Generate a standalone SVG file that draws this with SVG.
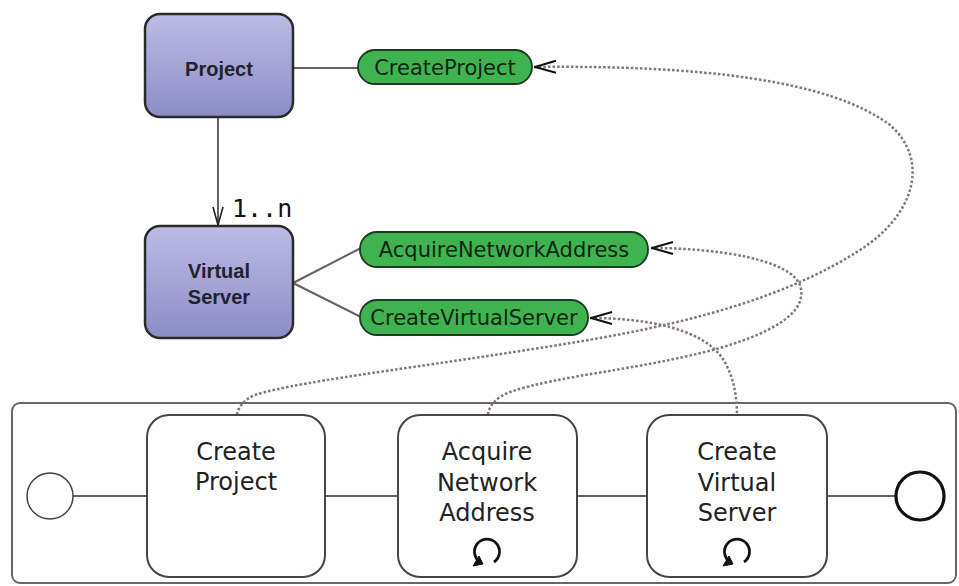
<svg xmlns="http://www.w3.org/2000/svg" width="959" height="586" viewBox="0 0 959 586">
<style>
.ent{stroke:#2a2a2a;stroke-width:2.5;fill:url(#lav)}
.entt{font-family:"Liberation Sans",Arial,sans-serif;font-weight:bold;font-size:20px;fill:#22222e;text-anchor:middle}
.pill{fill:#3fb34f;stroke:#1f3a22;stroke-width:1.8}
.pillt{font-family:"DejaVu Sans",sans-serif;font-size:21px;fill:#142414;text-anchor:middle}
.task{fill:#ffffff;stroke:#4a4444;stroke-width:2}
.taskt{font-family:"DejaVu Sans",sans-serif;font-size:24px;fill:#222;text-anchor:middle}
.solid{stroke:#6a6060;stroke-width:2;fill:none}
.dot{stroke:#857878;stroke-width:2.5;stroke-dasharray:2.6 2;fill:none}
.loop{stroke:#111;stroke-width:2.8;fill:none}
</style>
<defs>
<linearGradient id="lav" x1="0" y1="0" x2="0" y2="1">
<stop offset="0" stop-color="#bcbce6"/>
<stop offset="1" stop-color="#8c8cc6"/>
</linearGradient>
<marker id="open" markerUnits="userSpaceOnUse" markerWidth="26" markerHeight="16" refX="0" refY="8" orient="auto" viewBox="0 0 26 16">
<path d="M22,2 L1,8 L22,14" fill="none" stroke="#111" stroke-width="2"/>
</marker>
</defs>
<rect x="0" y="0" width="959" height="586" fill="#ffffff"/>

<g id="pool">
<rect x="12" y="403" width="944" height="180" rx="8" fill="none" stroke="#6d6565" stroke-width="2"/>
</g>

<g id="connectors">
<line class="solid" x1="293" y1="68" x2="358" y2="68"/>
<line class="solid" x1="218" y1="117" x2="218" y2="225"/>
<path d="M213,207 L218,225 L223,207" fill="none" stroke="#222" stroke-width="1.6"/>
<line class="solid" x1="293" y1="283" x2="361" y2="248" stroke="#4a4040"/>
<line class="solid" x1="293" y1="283" x2="361" y2="317" stroke="#4a4040"/>
<line class="solid" x1="73" y1="496" x2="147" y2="496"/>
<line class="solid" x1="325" y1="496" x2="398" y2="496"/>
<line class="solid" x1="577" y1="496" x2="647" y2="496"/>
<line class="solid" x1="827" y1="496" x2="896" y2="496"/>
<path class="dot" marker-start="url(#open)" d="M534,67 C700,65 830,80 890,125 C930,160 915,215 860,250 C790,295 700,320 600,338 C450,364 300,380 255,395 C243,400 238,408 237,415"/>
<path class="dot" marker-start="url(#open)" d="M651,248 C720,248 790,260 800,285 C808,310 780,330 720,348 C640,370 560,375 510,392 C495,398 489,406 488,415"/>
<path class="dot" marker-start="url(#open)" d="M590,318 C650,318 700,330 720,355 C733,372 737,395 737,415"/>
</g>

<g id="project">
<rect class="ent" x="145" y="14" width="148" height="103" rx="15"/>
<text class="entt" x="219" y="76">Project</text>
</g>
<g id="virtual-server">
<rect class="ent" x="145" y="226" width="148" height="112" rx="15"/>
<text class="entt" x="219" y="278">Virtual</text>
<text class="entt" x="219" y="304">Server</text>
</g>
<g id="multiplicity">
<text x="232" y="217" font-family="DejaVu Sans Mono,monospace" font-size="25" fill="#111">1..n</text>
</g>

<g id="create-project-op">
<rect class="pill" x="358" y="50" width="174" height="34" rx="17"/>
<text class="pillt" x="445" y="75">CreateProject</text>
</g>
<g id="acquire-network-address-op">
<rect class="pill" x="360" y="232" width="288" height="35" rx="17"/>
<text class="pillt" x="504" y="257">AcquireNetworkAddress</text>
</g>
<g id="create-virtual-server-op">
<rect class="pill" x="360" y="300" width="228" height="35" rx="17"/>
<text class="pillt" x="474" y="325">CreateVirtualServer</text>
</g>

<g id="start">
<circle cx="50" cy="496" r="23" fill="#fff" stroke="#444" stroke-width="1.5"/>
</g>
<g id="task-create-project">
<rect class="task" x="147" y="415" width="178" height="162" rx="22"/>
<text class="taskt" x="236" y="460">Create</text>
<text class="taskt" x="236" y="490">Project</text>
</g>
<g id="task-acquire-network-address">
<rect class="task" x="398" y="415" width="179" height="162" rx="22"/>
<text class="taskt" x="487" y="460">Acquire</text>
<text class="taskt" x="487" y="491">Network</text>
<text class="taskt" x="487" y="521">Address</text>
<path class="loop" d="M494,562 A12.5,12.5 0 1 0 480,562"/>
<path d="M473,566 L483,564 L479,556 Z" fill="#111" stroke="#111" stroke-width="1" stroke-linejoin="round"/>
</g>
<g id="task-create-virtual-server">
<rect class="task" x="647" y="415" width="180" height="162" rx="22"/>
<text class="taskt" x="737" y="460">Create</text>
<text class="taskt" x="737" y="491">Virtual</text>
<text class="taskt" x="737" y="521">Server</text>
<path class="loop" d="M744,562 A12.5,12.5 0 1 0 730,562"/>
<path d="M723,566 L733,564 L729,556 Z" fill="#111" stroke="#111" stroke-width="1" stroke-linejoin="round"/>
</g>
<g id="end">
<circle cx="920" cy="496" r="24" fill="#fff" stroke="#111" stroke-width="3.2"/>
</g>
</svg>
